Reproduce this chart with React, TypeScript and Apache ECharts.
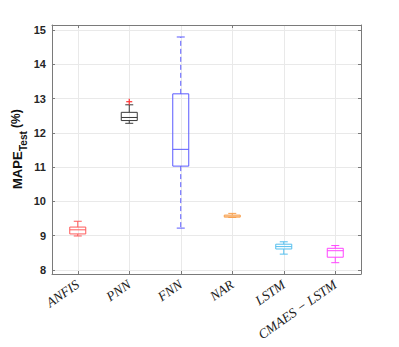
import React, { useEffect, useRef } from "react";
import * as echarts from "echarts";

const categories = ["ANFIS", "PNN", "FNN", "NAR", "LSTM", "CMAES − LSTM"];
const whiskerLow = [8.99, 12.28, 9.22, 9.53, 8.46, 8.21];
const q1 = [9.05, 12.36, 11.03, 9.54, 8.61, 8.37];
const median = [9.17, 12.45, 11.52, 9.57, 8.68, 8.56];
const q3 = [9.25, 12.6, 13.14, 9.6, 8.75, 8.63];
const whiskerHigh = [9.42, 12.82, 14.8, 9.65, 8.82, 8.71];
const outliers: [number, number][] = [[1, 12.91]];
const colors = ["#ff5a5a", "#3a3a3a", "#5a5aff", "#f7a04e", "#55bfee", "#ff44ff"];

export default function App() {
  const ref = useRef<HTMLDivElement>(null);
  useEffect(() => {
    if (!ref.current) return;
    const chart = echarts.init(ref.current, undefined, { renderer: "svg" });
    const boxData = categories.map((_, i) => [i, whiskerLow[i], q1[i], median[i], q3[i], whiskerHigh[i]]);
    const axisColor = "#7a7a7a";
    const gridColor = "#e9e9e9";
    const yMin = 7.88;
    const yMax = 15.15;
    chart.setOption({
      animation: false,
      grid: { left: 52, right: 38, top: 25, bottom: 73 },
      xAxis: [
        {
          type: "category",
          data: categories,
          position: "bottom",
          axisLine: { show: true, lineStyle: { color: axisColor, width: 1 } },
          axisTick: { show: true, inside: true, length: 3, alignWithLabel: true, lineStyle: { color: axisColor } },
          splitLine: { show: true, alignWithLabel: true, lineStyle: { color: gridColor, width: 1 } },
          axisLabel: {
            rotate: 35,
            margin: 9,
            interval: 0,
            fontFamily: "Liberation Serif",
            fontStyle: "italic",
            fontSize: 13.5,
            color: "#222",
          },
        },
        {
          type: "category",
          data: categories,
          position: "top",
          axisLine: { show: true, lineStyle: { color: axisColor, width: 1 } },
          axisTick: { show: true, inside: true, length: 3, alignWithLabel: true, lineStyle: { color: axisColor } },
          axisLabel: { show: false },
          splitLine: { show: false },
        },
      ],
      yAxis: [
        {
          type: "value",
          min: yMin,
          max: yMax,
          minInterval: 1,
          maxInterval: 1,
          position: "left",
          axisLine: { show: true, lineStyle: { color: axisColor, width: 1 } },
          axisTick: { show: true, inside: true, length: 3, lineStyle: { color: axisColor } },
          splitLine: { show: true, lineStyle: { color: gridColor, width: 1 } },
          axisLabel: {
            showMinLabel: false,
            showMaxLabel: false,
            margin: 6,
            fontFamily: "Liberation Sans",
            fontWeight: "bold",
            fontSize: 11,
            color: "#262626",
            formatter: (v: number) => (Number.isInteger(v) ? String(v) : ""),
          },
        },
        {
          type: "value",
          min: yMin,
          max: yMax,
          minInterval: 1,
          maxInterval: 1,
          position: "right",
          axisLine: { show: true, lineStyle: { color: axisColor, width: 1 } },
          axisTick: { show: true, inside: true, length: 3, lineStyle: { color: axisColor } },
          splitLine: { show: false },
          axisLabel: { show: false },
        },
      ],
      graphic: [
        {
          type: "group",
          x: 24,
          y: 189,
          rotation: Math.PI / 2,
          children: [
            {
              type: "text",
              x: 0,
              y: 0,
              style: {
                text: "MAPE",
                font: "bold 13px 'Liberation Sans'",
                fill: "#111",
                textAlign: "left",
                textVerticalAlign: "bottom",
              },
            },
            {
              type: "text",
              x: 38,
              y: 4,
              style: {
                text: "Test",
                font: "bold 10px 'Liberation Sans'",
                fill: "#111",
                textAlign: "left",
                textVerticalAlign: "bottom",
              },
            },
            {
              type: "text",
              x: 61,
              y: -2,
              style: {
                text: "(%)",
                font: "bold 12px 'Liberation Sans'",
                fill: "#111",
                textAlign: "left",
                textVerticalAlign: "bottom",
              },
            },
          ],
        },
      ],
      series: [
        {
          type: "custom",
          xAxisIndex: 0,
          yAxisIndex: 0,
          data: boxData,
          encode: { x: 0, y: [1, 2, 3, 4, 5] },
          renderItem: (params: any, api: any) => {
            const i = api.value(0);
            const color = colors[i];
            const cx = api.coord([i, api.value(1)])[0];
            const yLo = api.coord([i, api.value(1)])[1];
            const yQ1 = api.coord([i, api.value(2)])[1];
            const yMed = api.coord([i, api.value(3)])[1];
            const yQ3 = api.coord([i, api.value(4)])[1];
            const yHi = api.coord([i, api.value(5)])[1];
            const bw = 16;
            const cw = 8;
            const dash = i === 2 ? [5, 3] : undefined;
            const line = (x1: number, y1: number, x2: number, y2: number, d?: number[]) => ({
              type: "line",
              shape: { x1, y1, x2, y2 },
              style: { stroke: color, lineWidth: 1, lineDash: d, fill: "none" },
            });
            return {
              type: "group",
              children: [
                line(cx, yQ3, cx, yHi, dash),
                line(cx, yQ1, cx, yLo, dash),
                line(cx - cw / 2, yHi, cx + cw / 2, yHi),
                line(cx - cw / 2, yLo, cx + cw / 2, yLo),
                {
                  type: "rect",
                  shape: { x: cx - bw / 2, y: yQ3, width: bw, height: yQ1 - yQ3 },
                  style: { fill: "none", stroke: color, lineWidth: 1 },
                },
                line(cx - bw / 2, yMed, cx + bw / 2, yMed),
              ],
            };
          },
        },
        {
          type: "custom",
          xAxisIndex: 0,
          yAxisIndex: 0,
          data: outliers,
          encode: { x: 0, y: 1 },
          renderItem: (params: any, api: any) => {
            const p = api.coord([api.value(0), api.value(1)]);
            const s = 3;
            const st = { stroke: "#ff3030", lineWidth: 1.2 };
            return {
              type: "group",
              children: [
                { type: "line", shape: { x1: p[0] - s, y1: p[1], x2: p[0] + s, y2: p[1] }, style: st },
                { type: "line", shape: { x1: p[0], y1: p[1] - s, x2: p[0], y2: p[1] + s }, style: st },
              ],
            };
          },
        },
      ],
    });
    return () => chart.dispose();
  }, []);
  return (
    <div
      ref={ref}
      style={{ position: "absolute", left: 0, top: 0, width: 399, height: 347, background: "#fff" }}
    />
  );
}
